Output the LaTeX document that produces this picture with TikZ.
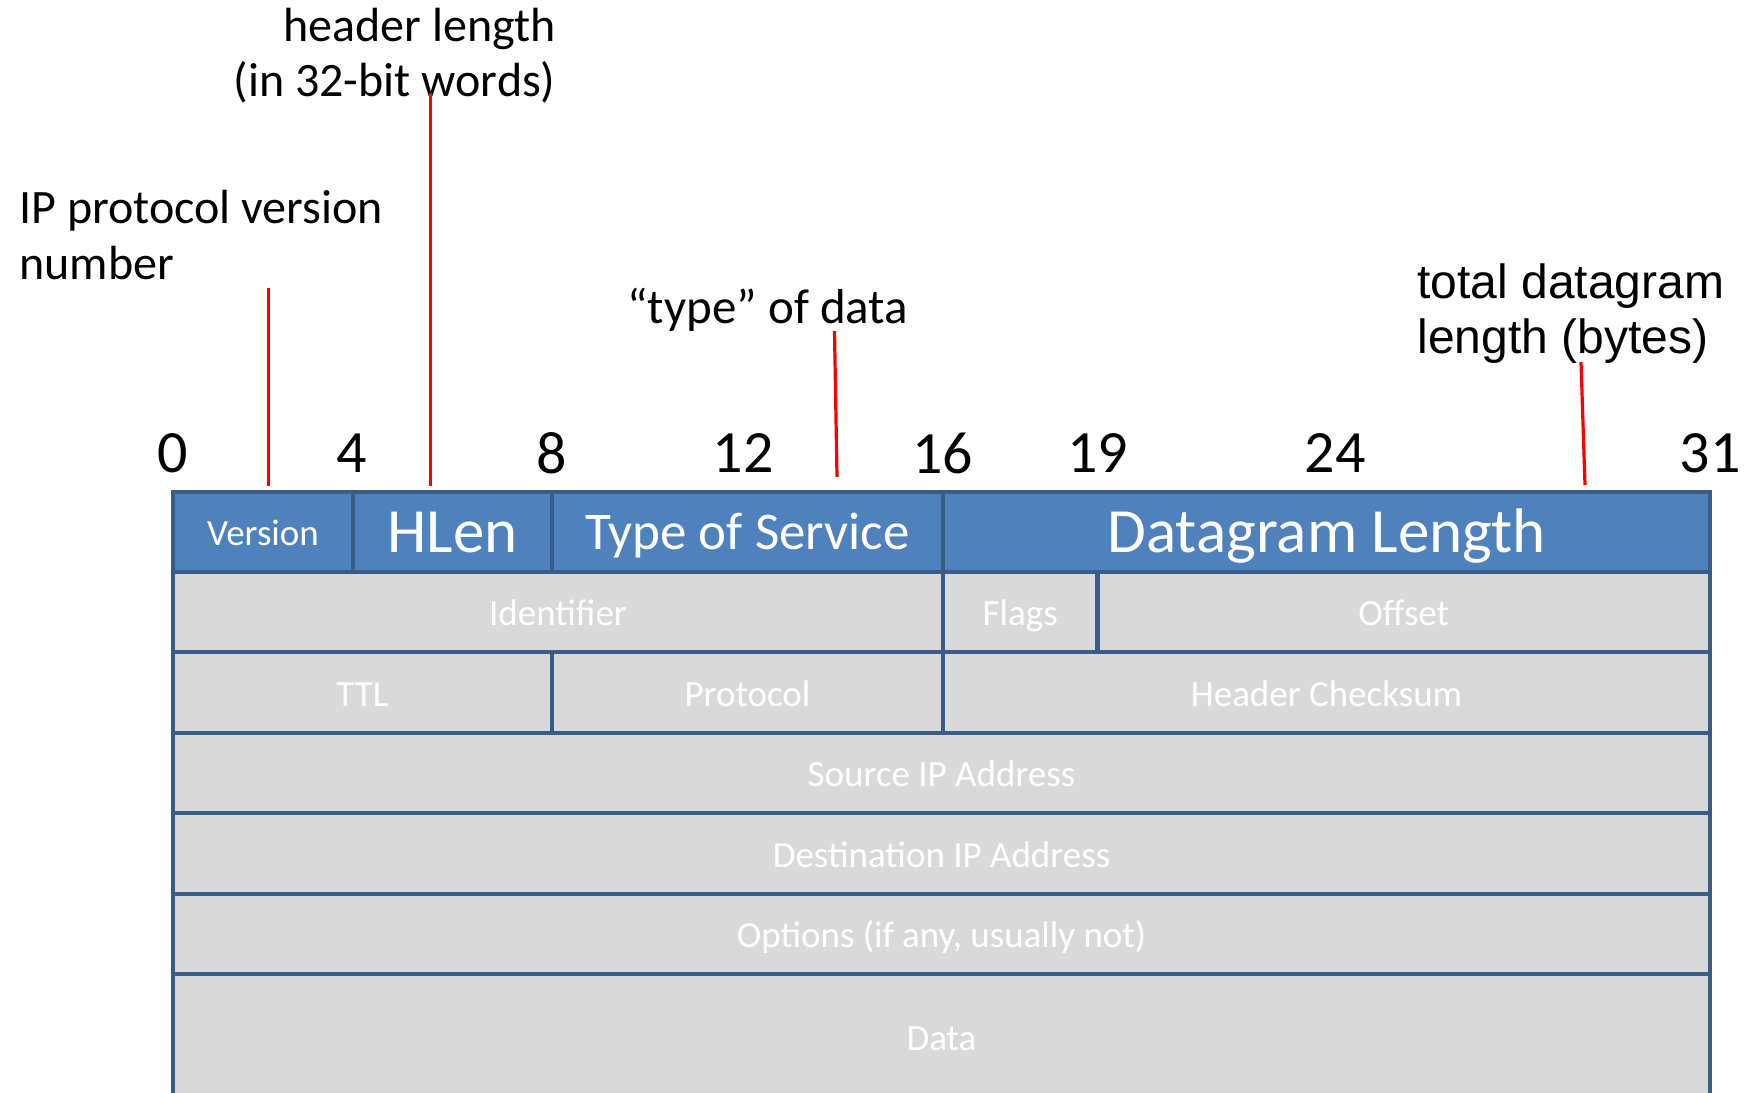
\documentclass[tikz,border=0pt]{standalone}
\usepackage{fontspec}
\setmainfont{Carlito}
\newfontfamily\arialfont{Liberation Sans}
\definecolor{hdrblue}{HTML}{4F81BD}
\definecolor{edgeblue}{HTML}{385D8A}
\definecolor{cellgray}{HTML}{D9D9D9}
\definecolor{markred}{HTML}{FF0000}
\tikzset{
  cellbox/.style={draw=edgeblue, line width=2.3pt, inner sep=0pt, text=white, text height=13.8pt, text depth=0pt, font=\fontsize{18.5}{20}\selectfont},
  bluecell/.style={cellbox, fill=hdrblue},
  graycell/.style={cellbox, fill=cellgray},
  bigcell/.style={font=\fontsize{31.5}{33}\selectfont, text height=20.3pt},
  midcell/.style={font=\fontsize{26.5}{28}\selectfont, text height=17.1pt},
  bignum/.style={font=\fontsize{30}{32}\selectfont, inner sep=0pt},
  annot/.style={font=\fontsize{24}{27}\selectfont, inner sep=0pt},
  redline/.style={draw=markred, line width=1.6pt}
}
\begin{document}
\begin{tikzpicture}[x=0.5pt,y=-0.5pt]
\useasboundingbox (0,0) rectangle (1747,1093);
\clip (0,0) rectangle (1747,1093);
\fill[white] (0,0) rectangle (1747,1093);

% annotations
\node[annot, anchor=base east] (hl1) at (556,41.5) {header length};
\node[annot, anchor=base east] (hl2) at (556,96.5) {(in 32-bit words)};
\node[annot, anchor=base west] (ip1) at (19,223.5) {IP protocol version};
\node[annot, anchor=base west] (ip2) at (19,279.5) {number};
\node[annot, font=\fontsize{24.5}{27}\selectfont, anchor=base west] (tp) at (627,323.5) {“type” of data};
\node[annot, font=\arialfont\fontsize{24}{27}\selectfont, anchor=base west] (tl1) at (1417,298) {total datagram};
\node[annot, font=\arialfont\fontsize{24}{27}\selectfont, anchor=base west] (tl2) at (1417,353) {length (bytes)};

% bit numbers
\node[bignum] (b0) at (172.7,453) {0};
\node[bignum] (b4) at (352,453) {4};
\node[bignum] (b8) at (551.5,453) {8};
\node[bignum] (b12) at (743,453) {12};
\node[bignum] (b16) at (942.6,453) {16};
\node[bignum] (b19) at (1097.5,453) {19};
\node[bignum] (b24) at (1335,453) {24};
\node[bignum] (b31) at (1710,453) {31};

% row 1
\node[bluecell, minimum width=90pt, minimum height=40pt] (ver) at (263,532) {Version};
\node[bluecell, bigcell, minimum width=99.5pt, minimum height=40pt] (hlen) at (452.5,532) {HLen};
\node[bluecell, midcell, minimum width=195.5pt, minimum height=40pt] (tos) at (747.5,532) {Type of Service};
\node[bluecell, bigcell, minimum width=383.5pt, minimum height=40pt] (dlen) at (1326.5,532) {Datagram Length};
% row 2
\node[graycell, minimum width=385pt, minimum height=40pt] (ident) at (558,612) {Identifier};
\node[graycell, minimum width=77.25pt, minimum height=40pt] (flags) at (1020.25,612) {Flags};
\node[graycell, minimum width=306.25pt, minimum height=40pt] (offs) at (1403.75,612) {Offset};
% row 3
\node[graycell, minimum width=189.5pt, minimum height=40.5pt] (ttl) at (362.5,692.5) {TTL};
\node[graycell, minimum width=195.5pt, minimum height=40.5pt] (proto) at (747.5,692.5) {Protocol};
\node[graycell, minimum width=383.5pt, minimum height=40.5pt] (hcs) at (1326.5,692.5) {Header Checksum};
% full rows
\node[graycell, minimum width=768.5pt, minimum height=40pt] (src) at (941.5,773) {Source IP Address};
\node[graycell, minimum width=768.5pt, minimum height=40.5pt] (dst) at (941.5,853.5) {Destination IP Address};
\node[graycell, minimum width=768.5pt, minimum height=40pt] (opts) at (941.5,934) {Options (if any, usually not)};
\node[graycell, minimum width=768.5pt, minimum height=63pt] (data) at (941.5,1037) {Data};

% red marker lines
\coordinate (vtop) at (268.5,287.5);
\coordinate (vbot) at (268.5,486);
\coordinate (htop) at (430.5,92.5);
\coordinate (hbot) at (430.5,486);
\coordinate (ttop) at (834.5,331);
\coordinate (tbot) at (837,477);
\coordinate (dtop) at (1581,362);
\coordinate (dbot) at (1585,485);
\draw[redline] (vtop) -- (vbot);
\draw[redline] (htop) -- (hbot);
\draw[redline] (ttop) -- (tbot);
\draw[redline] (dtop) -- (dbot);
\end{tikzpicture}
\end{document}
